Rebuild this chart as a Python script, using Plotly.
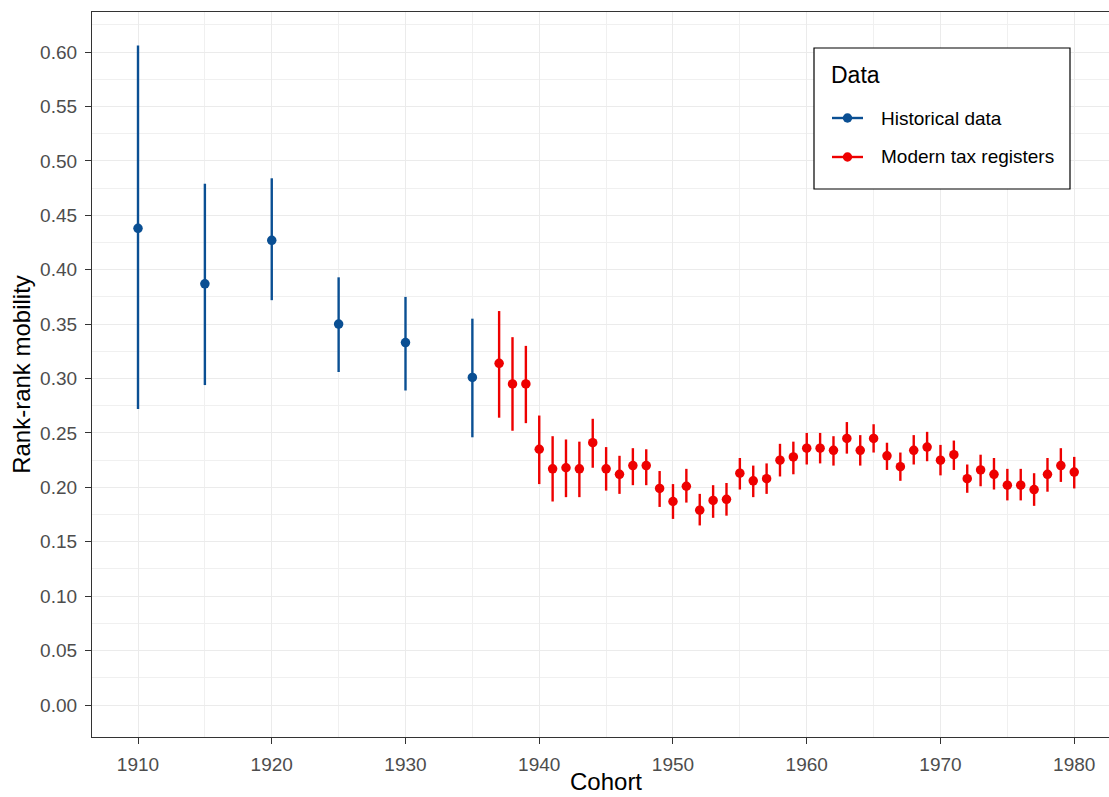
import plotly.graph_objects as go

# Historical data
hist_cohort = [1910, 1915, 1920, 1925, 1930, 1935]
hist_est = [0.438, 0.387, 0.427, 0.350, 0.333, 0.301]
hist_hi = [0.606, 0.479, 0.484, 0.393, 0.375, 0.355]
hist_lo = [0.272, 0.294, 0.372, 0.306, 0.289, 0.246]

# Modern tax registers
mod_cohort = list(range(1937, 1981))
mod_est = [0.314, 0.295, 0.295, 0.235, 0.217, 0.218, 0.217, 0.241, 0.217, 0.212,
           0.220, 0.220, 0.199, 0.187, 0.201, 0.179, 0.188, 0.189, 0.213, 0.206,
           0.208, 0.225, 0.228, 0.236, 0.236, 0.234, 0.245, 0.234, 0.245, 0.229,
           0.219, 0.234, 0.237, 0.225, 0.230, 0.208, 0.216, 0.212, 0.202, 0.202,
           0.198, 0.212, 0.220, 0.214]
mod_hi = [0.362, 0.338, 0.330, 0.266, 0.247, 0.244, 0.242, 0.263, 0.237, 0.229,
          0.236, 0.235, 0.215, 0.203, 0.217, 0.194, 0.202, 0.204, 0.227, 0.220,
          0.222, 0.240, 0.242, 0.250, 0.250, 0.247, 0.260, 0.248, 0.258, 0.241,
          0.232, 0.248, 0.251, 0.239, 0.243, 0.221, 0.230, 0.227, 0.217, 0.217,
          0.213, 0.227, 0.236, 0.228]
mod_lo = [0.264, 0.252, 0.259, 0.203, 0.187, 0.191, 0.191, 0.218, 0.197, 0.194,
          0.202, 0.202, 0.182, 0.171, 0.186, 0.165, 0.172, 0.174, 0.198, 0.191,
          0.194, 0.210, 0.212, 0.221, 0.222, 0.220, 0.231, 0.220, 0.232, 0.216,
          0.206, 0.221, 0.224, 0.211, 0.216, 0.195, 0.201, 0.198, 0.188, 0.188,
          0.183, 0.196, 0.205, 0.199]

legend_title = "Data"
legend_names = ["Historical data", "Modern tax registers"]

BLUE = "#0a4f93"
RED = "#ee0000"
FONT = "Liberation Sans, Arial, sans-serif"

W, H = 1109, 797
ML, MR, MT, MB = 92, 0, 12, 60
PW, PH = W - ML - MR, H - MT - MB


def px_x(p):
    return (p - ML) / PW


def px_y(p):
    return (H - MB - p) / PH


def series(x, y, hi, lo, name, color):
    return go.Scatter(
        x=x, y=y, mode="markers", name=name,
        marker=dict(color=color, size=9.5),
        error_y=dict(type="data", symmetric=False,
                     array=[h - v for h, v in zip(hi, y)],
                     arrayminus=[v - l for v, l in zip(y, lo)],
                     color=color, thickness=2.4, width=0),
    )


fig = go.Figure()
fig.add_trace(series(hist_cohort, hist_est, hist_hi, hist_lo, legend_names[0], BLUE))
fig.add_trace(series(mod_cohort, mod_est, mod_hi, mod_lo, legend_names[1], RED))

# Manual legend (ggplot-style box)
shapes = [dict(type="rect", xref="paper", yref="paper",
               x0=px_x(814), x1=px_x(1070), y0=px_y(189), y1=px_y(48),
               line=dict(color="black", width=1.2), fillcolor="white", layer="above")]
annotations = [dict(text=legend_title, x=px_x(829), y=px_y(75), xref="paper", yref="paper",
                    xanchor="left", yanchor="middle", showarrow=False,
                    font=dict(size=23, color="black", family=FONT))]
rx, ry = 4.7 / PW, 4.7 / PH
for name, color, yy in zip(legend_names, [BLUE, RED], [118, 157]):
    shapes.append(dict(type="line", xref="paper", yref="paper",
                       x0=px_x(832), x1=px_x(863), y0=px_y(yy), y1=px_y(yy),
                       line=dict(color=color, width=2.4), layer="above"))
    cx, cy = px_x(847.5), px_y(yy)
    shapes.append(dict(type="circle", xref="paper", yref="paper",
                       x0=cx - rx, x1=cx + rx, y0=cy - ry, y1=cy + ry,
                       line=dict(color=color, width=0), fillcolor=color, layer="above"))
    annotations.append(dict(text=name, x=px_x(879), y=px_y(yy), xref="paper", yref="paper",
                            xanchor="left", yanchor="middle", showarrow=False,
                            font=dict(size=19, color="black", family=FONT)))

annotations.append(dict(text="Cohort", x=px_x(606), y=px_y(796), xref="paper", yref="paper",
                        xanchor="center", yanchor="bottom", showarrow=False, borderpad=0,
                        font=dict(size=24, color="black", family=FONT)))

fig.update_layout(
    width=W, height=H,
    margin=dict(l=ML, r=MR, t=MT, b=MB, autoexpand=False),
    paper_bgcolor="white", plot_bgcolor="white",
    font=dict(family=FONT, color="#4d4d4d", size=19),
    showlegend=False,
    shapes=shapes,
    annotations=annotations,
    xaxis=dict(
        range=[1906.56, 1982.6],
        tickvals=[1910, 1920, 1930, 1940, 1950, 1960, 1970, 1980],
        showgrid=True, gridcolor="#ebebeb", gridwidth=1.3,
        minor=dict(tickvals=[1915, 1925, 1935, 1945, 1955, 1965, 1975],
                   showgrid=True, gridcolor="#f0f0f0", gridwidth=0.8),
        ticks="outside", ticklen=6, tickcolor="#333333", tickwidth=1.2,
        ticklabelstandoff=4,
        showline=True, linecolor="#333333", linewidth=1.2, mirror=True,
        zeroline=False,
        tickfont=dict(size=19, color="#4d4d4d"),
    ),
    yaxis=dict(
        range=[-0.0294, 0.6368],
        tickvals=[i * 0.05 for i in range(13)],
        ticktext=["%.2f" % (i * 0.05) for i in range(13)],
        showgrid=True, gridcolor="#ebebeb", gridwidth=1.3,
        minor=dict(tickvals=[0.025 + i * 0.05 for i in range(13)],
                   showgrid=True, gridcolor="#f0f0f0", gridwidth=0.8),
        ticks="outside", ticklen=6, tickcolor="#333333", tickwidth=1.2,
        ticklabelstandoff=4,
        showline=True, linecolor="#333333", linewidth=1.2, mirror=False,
        zeroline=False,
        tickfont=dict(size=19, color="#4d4d4d"),
        title=dict(text="Rank-rank mobility", font=dict(size=24, color="black"), standoff=2),
    ),
)

fig.write_html("out.html")
